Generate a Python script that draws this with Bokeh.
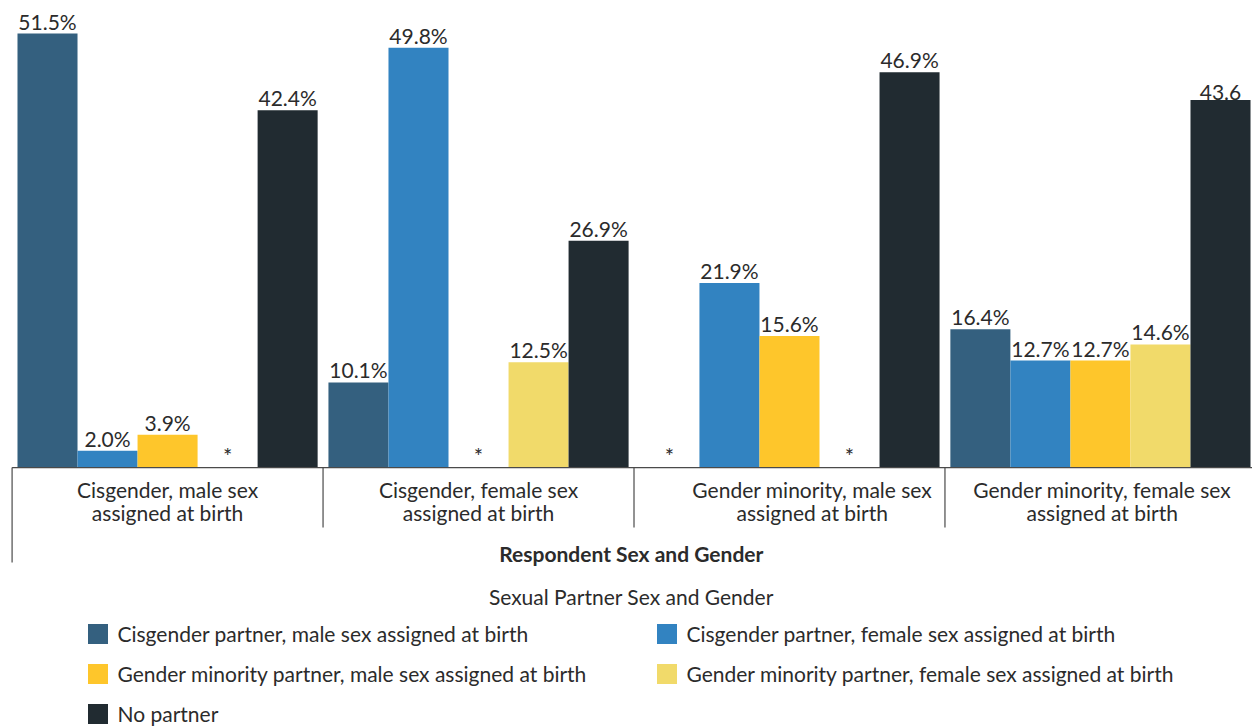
from bokeh.plotting import figure
from bokeh.models import Legend, LegendItem, Range1d
from bokeh.embed import file_html
from bokeh.resources import INLINE
from bokeh.core.properties import value

# ---------------- data ----------------
groups = [
    "Cisgender, male sex\nassigned at birth",
    "Cisgender, female sex\nassigned at birth",
    "Gender minority, male sex\nassigned at birth",
    "Gender minority, female sex\nassigned at birth",
]
series_names = [
    "Cisgender partner, male sex assigned at birth",
    "Cisgender partner, female sex assigned at birth",
    "Gender minority partner, male sex assigned at birth",
    "Gender minority partner, female sex assigned at birth",
    "No partner",
]
cis_male_partner = [51.5, 10.1, None, 16.4]
cis_female_partner = [2.0, 49.8, 21.9, 12.7]
gm_male_partner = [3.9, None, 15.6, 12.7]
gm_female_partner = [None, 12.5, None, 14.6]
no_partner = [42.4, 26.9, 46.9, 43.6]

cis_male_labels = ["51.5%", "10.1%", "*", "16.4%"]
cis_female_labels = ["2.0%", "49.8%", "21.9%", "12.7%"]
gm_male_labels = ["3.9%", "*", "15.6%", "12.7%"]
gm_female_labels = ["*", "12.5%", "*", "14.6%"]
no_partner_labels = ["42.4%", "26.9%", "46.9%", "43.6"]

x_axis_title = "Respondent Sex and Gender"
legend_title = "Sexual Partner Sex and Gender"

colors = ["#34607f", "#3283c1", "#fec62b", "#f1da6a", "#212b31"]

all_values = [cis_male_partner, cis_female_partner, gm_male_partner, gm_female_partner, no_partner]
all_labels = [cis_male_labels, cis_female_labels, gm_male_labels, gm_female_labels, no_partner_labels]

# ---------------- layout ----------------
FONT = "Lato"
TXT = "#2b2b2b"
FS = "21px"
GAP = 0.18
NS = len(series_names)
step = NS + GAP
x_end = (len(groups) - 1) * step + NS
label_nudge = [0.0, 0.0, 0.38, 0.03]

p = figure(width=1252, height=726, output_backend="svg", toolbar_location=None,
           x_range=Range1d(-0.283, x_end + 0.033), y_range=Range1d(-30.73, 55.42),
           min_border=0, min_border_left=0, min_border_right=0,
           min_border_top=0, min_border_bottom=0)
p.xaxis.visible = False
p.yaxis.visible = False
p.xgrid.visible = False
p.ygrid.visible = False
p.outline_line_color = None
p.background_fill_color = "white"

renderers = []
for s in range(NS):
    xs, tops, lt = [], [], []
    sx, st = [], []
    for g in range(len(groups)):
        xc = g * step + s + 0.5
        v = all_values[s][g]
        if v is None:
            sx.append(xc)
            st.append(all_labels[s][g])
        else:
            xs.append(xc)
            tops.append(v)
            lt.append(all_labels[s][g])
    r = p.vbar(x=xs, top=tops, bottom=0, width=1.0, fill_color=colors[s], line_color=None)
    renderers.append(r)
    p.text(x=xs, y=tops, text=lt, text_align="center", text_baseline="bottom",
           text_font=value(FONT), text_font_size=FS, text_color=TXT)
    if sx:
        p.text(x=sx, y=[1.42] * len(sx), text=st, text_align="center", text_baseline="alphabetic",
               text_font=value(FONT), text_font_size="22px", text_color=TXT)

# axis baseline and group separators
AX = "#4a4a4a"
p.segment(x0=[-GAP / 2], y0=[0], x1=[x_end + 1], y1=[0], line_color=AX, line_width=1.2)
sep_x = [g * step - GAP / 2 for g in range(len(groups))]
sep_y1 = [-11.27] + [-7.12] * (len(groups) - 1)
p.segment(x0=sep_x, y0=[0] * len(sep_x), x1=sep_x, y1=sep_y1, line_color=AX, line_width=1.2)

# group labels (two lines each)
gx = [g * step + NS / 2 + label_nudge[g] for g in range(len(groups))]
line1 = [t.split("\n")[0] for t in groups]
line2 = [t.split("\n")[1] for t in groups]
p.text(x=gx, y=[-2.6] * len(groups), text=line1, text_align="center", text_baseline="middle",
       text_font=value(FONT), text_font_size=FS, text_color=TXT)
p.text(x=gx, y=[-5.3] * len(groups), text=line2, text_align="center", text_baseline="middle",
       text_font=value(FONT), text_font_size=FS, text_color=TXT)

mid = (-GAP / 2 + x_end) / 2
p.text(x=[mid], y=[-10.2], text=[x_axis_title], text_align="center", text_baseline="middle",
       text_font=value(FONT), text_font_size=FS, text_font_style="bold", text_color=TXT)
p.text(x=[mid], y=[-15.3], text=[legend_title], text_align="center", text_baseline="middle",
       text_font=value(FONT), text_font_size=FS, text_color=TXT)

# legends (two columns)
def make_legend(idx, loc):
    lg = Legend(items=[LegendItem(label=series_names[i], renderers=[renderers[i]]) for i in idx],
                location=loc, orientation="vertical",
                glyph_width=25, glyph_height=25, label_height=20, label_standoff=8,
                spacing=15, padding=0, margin=0, border_line_color=None,
                background_fill_alpha=0, label_text_font=FONT, label_text_font_size=FS,
                label_text_color=TXT)
    p.add_layout(lg, "center")

make_legend([0, 2, 4], (84.5, 0))
make_legend([1, 3], (653.5, 40))

open("out.html", "w").write(file_html(p, INLINE))
